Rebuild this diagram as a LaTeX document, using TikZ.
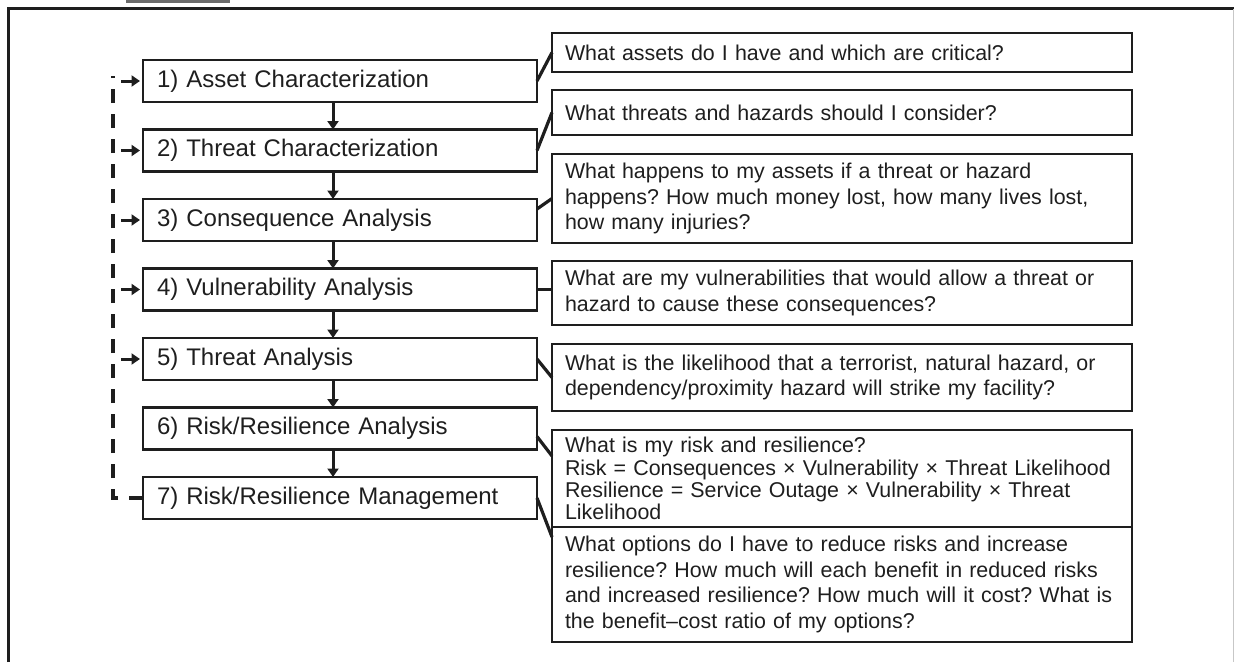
\documentclass[tikz,border=0pt]{standalone}
\usepackage{fontspec}
\setmainfont{Liberation Sans}
\frenchspacing
\usetikzlibrary{arrows.meta}
\definecolor{ink}{HTML}{1E1E1E}
\definecolor{tabgray}{HTML}{6B6B6B}
\begin{document}
\begin{tikzpicture}[x=1pt,y=-1pt,
  stepbox/.style={draw=ink, line width=2.2pt, rectangle, outer sep=0pt,
    minimum width=394pt, minimum height=42pt, inner xsep=14pt, inner ysep=0pt,
    text width=366pt, align=left, font=\fontsize{24}{28}\selectfont, text=ink},
  qbox/.style={draw=ink, line width=2.2pt, rectangle, outer sep=0pt,
    minimum width=580pt, inner xsep=13pt, inner ysep=0pt,
    text width=554pt, align=left, font=\fontsize{21.4}{25.6}\selectfont, text=ink},
  link/.style={draw=ink, line width=3.2pt},
  flow/.style={draw=ink, line width=3pt, -{Triangle[length=8.5pt,width=11pt]}},
  loop/.style={draw=ink, line width=3.6pt, dash pattern=on 14pt off 11pt},
]
\useasboundingbox (0,0) rectangle (1234,662);

% page frame and tab
\fill[tabgray] (126,0) rectangle (230,3);
\draw[ink, line width=3pt, line join=miter] (8,662) -- (8,8) -- (1234,8);
\draw[black!22, line width=1pt] (1233,9) -- (1233,662);

% process steps
\node[stepbox] (s1) at (340,81)    {1) Asset Characterization};
\node[stepbox] (s2) at (340,150.5) {2) Threat Characterization};
\node[stepbox] (s3) at (340,220)   {3) Consequence Analysis};
\node[stepbox] (s4) at (340,289.5) {4) Vulnerability Analysis};
\node[stepbox] (s5) at (340,359)   {5) Threat Analysis};
\node[stepbox] (s6) at (340,428.5) {6) Risk/Resilience Analysis};
\node[stepbox] (s7) at (340,498)   {7) Risk/Resilience Management};

% guiding questions
\node[qbox, minimum height=39pt] (r1) at (842,52.5)
  {What assets do I have and which are critical?};
\node[qbox, minimum height=45pt] (r2) at (842,112.5)
  {What threats and hazards should I consider?};
\node[qbox, minimum height=89pt] (r3) at (842,198.5)
  {What happens to my assets if a threat or hazard\\happens? How much money lost, how many lives lost,\\how many injuries?};
\node[qbox, minimum height=64pt] (r4) at (842,293)
  {What are my vulnerabilities that would allow a threat or\\hazard to cause these consequences?};
\node[qbox, minimum height=67pt] (r5) at (842,377.5)
  {What is the likelihood that a terrorist, natural hazard, or\\dependency/proximity hazard will strike my facility?};
\node[qbox, minimum height=97pt, font=\fontsize{21.4}{22.3}\selectfont] (r6a) at (842,478.5)
  {What is my risk and resilience?\\Risk = Consequences × Vulnerability × Threat Likelihood\\Resilience = Service Outage × Vulnerability × Threat\\Likelihood};
\node[qbox, minimum height=115pt] (r6b) at (842,584.5)
  {What options do I have to reduce risks and increase\\resilience? How much will each benefit in reduced risks\\and increased resilience? How much will it cost? What is\\the benefit–cost ratio of my options?};

% step-to-question links
\draw[link] (s1.east) -- (r1.west);
\draw[link] (s2.east) -- (r2.west);
\draw[link] ([yshift=11pt]s3.east) -- (r3.west);
\draw[link] (s4.east) -- (s4.east -| r4.west);
\draw[link] (s5.east) -- (r5.west);
\draw[link] ([yshift=-8pt]s6.east) -- ([yshift=-26pt]r6a.north west);
\draw[link] (s7.east) -- ([yshift=-10pt]r6b.north west);

% main sequence
\foreach \a/\b in {s1/s2,s2/s3,s3/s4,s4/s5,s5/s6,s6/s7}
  \draw[flow] ([xshift=-7pt]\a.south) -- ([xshift=-7pt]\b.north);

% feedback loop
\coordinate (looptop) at (113,76);
\draw[loop] (s7.west) -| (looptop);
\foreach \s in {s1,s2,s3,s4,s5}
  \draw[flow] ([xshift=-22pt]\s.west) -- ([xshift=-3pt]\s.west);
\end{tikzpicture}
\end{document}
